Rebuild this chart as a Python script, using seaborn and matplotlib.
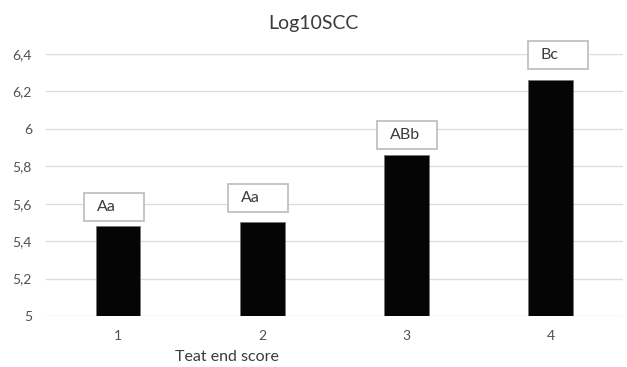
import matplotlib
matplotlib.use("Agg")
import matplotlib.pyplot as plt
import matplotlib.transforms as mtransforms
from matplotlib.patches import Rectangle
from matplotlib.ticker import FuncFormatter
import pandas as pd
import seaborn as sns

# Data
scores = ["1", "2", "3", "4"]
log_scc = [5.48, 5.50, 5.86, 6.26]
letters = ["Aa", "Aa", "ABb", "Bc"]

# label box placement relative to bar centre / bar top (pixels)
box_dx = [-34, -34, -30, -23]
box_gap = [5, 10.7, 5.7, 11.7]
box_w, box_h = 60, 28

sns.set_theme(style="white")
plt.rcParams['font.family'] = ['Lato', 'DejaVu Sans']

df = pd.DataFrame({"score": scores, "log_scc": log_scc})

fig = plt.figure(figsize=(6.27, 3.67), dpi=100)
ax = fig.add_axes([45.8 / 627, 1 - 316 / 367, (623 - 45.8) / 627, (316 - 54) / 367])

sns.barplot(data=df, x="score", y="log_scc", color="#050505", width=0.31,
            edgecolor="#777777", linewidth=0.6, saturation=1, ax=ax, zorder=3)

ax.set_ylim(5, 6.4)
ax.set_yticks([5, 5.2, 5.4, 5.6, 5.8, 6, 6.2, 6.4])
ax.yaxis.set_major_formatter(FuncFormatter(lambda v, p: f"{v:g}".replace(".", ",")))
ax.grid(axis="y", color="#dcdcdc", linewidth=1, zorder=0)
ax.set_axisbelow(True)
for s in ax.spines.values():
    s.set_visible(False)
ax.tick_params(axis="both", length=0, labelsize=10, labelcolor="#505050")
ax.tick_params(axis="y", pad=10)
ax.tick_params(axis="x", pad=10)
ax.set_xlabel("")
ax.set_ylabel("")

fig.text(0.5, 1 - 24 / 367, "Log10SCC", ha="center", va="center",
         fontsize=14, color="#3a3a3a")
fig.text(227 / 627, 1 - 357 / 367, "Teat end score", ha="center", va="center",
         fontsize=11.5, color="#3a3a3a")

# letter boxes above bars
for i, (val, lab) in enumerate(zip(log_scc, letters)):
    px, py = ax.transData.transform((i, val))
    x0 = px + box_dx[i]
    y0 = py + box_gap[i]
    tr = mtransforms.IdentityTransform()
    ax.add_patch(Rectangle((x0, y0), box_w, box_h, transform=tr, fill=True,
                           facecolor="white", edgecolor="#c0c0c0", linewidth=1.3,
                           clip_on=False, zorder=4))
    ax.text(x0 + 13, y0 + box_h / 2, lab, transform=tr, ha="left", va="center",
            fontsize=11.5, color="#3a3a3a", clip_on=False, zorder=5)

fig.savefig("out.png", dpi=100)
